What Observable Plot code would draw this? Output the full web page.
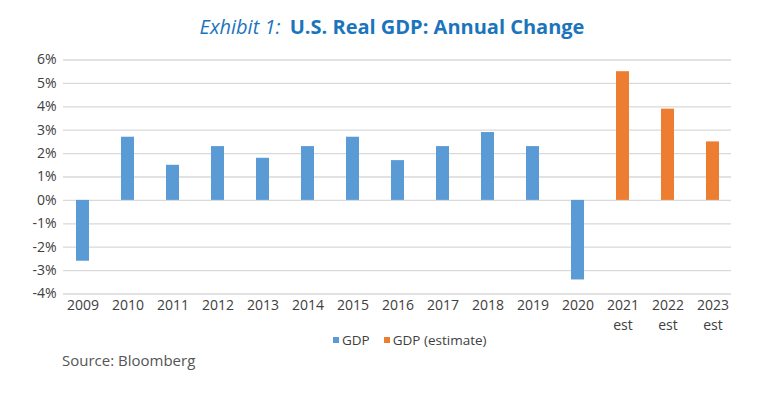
<!DOCTYPE html>
<html>
<head>
<meta charset="utf-8">
<script src="https://cdn.jsdelivr.net/npm/d3@7"></script>
<script src="https://cdn.jsdelivr.net/npm/@observablehq/plot@0.6"></script>
<style>
  html, body { margin: 0; padding: 0; background: #fff; }
  body { width: 770px; height: 394px; position: relative; overflow: hidden; font-family: "Open Sans", sans-serif; }
  #title { position: absolute; top: 13px; left: 0; width: 784px; text-align: center; font-size: 20px; color: #1b75bc; white-space: nowrap; }
  #title i { font-style: italic; font-weight: 400; }
  #title b { font-weight: 700; margin-left: 4px; }
  #chart { position: absolute; top: 48px; left: 0; }
  #legend { position: absolute; top: 331px; left: 333px; font-size: 13.5px; color: #404040; display: flex; align-items: center; white-space: nowrap; }
  #legend .sw { display: inline-block; width: 6px; height: 6px; margin-right: 3px; }
  #legend .item { display: flex; align-items: center; margin-right: 14px; }
  #source { position: absolute; top: 350px; left: 62px; font-size: 15px; color: #555; }
</style>
</head>
<body>
<div id="title"><i>Exhibit 1:</i> <b>U.S. Real GDP: Annual Change</b></div>
<div id="chart"></div>
<div id="legend"></div>
<div id="source">Source: Bloomberg</div>
<script>
const years = ["2009","2010","2011","2012","2013","2014","2015","2016","2017","2018","2019","2020","2021","2022","2023"];
const gdpYears = ["2009","2010","2011","2012","2013","2014","2015","2016","2017","2018","2019","2020"];
const gdp = [-2.6, 2.7, 1.5, 2.3, 1.8, 2.3, 2.7, 1.7, 2.3, 2.9, 2.3, -3.4];
const estYears = ["2021","2022","2023"];
const gdpEstimate = [5.5, 3.9, 2.5];
const estNote = "est";
const yTicks = [-4, -3, -2, -1, 0, 1, 2, 3, 4, 5, 6];
const seriesNames = ["GDP", "GDP (estimate)"];
const colors = ["#5b9bd5", "#ed7d31"];

const rows = [
  ...gdpYears.map((y, i) => ({year: y, value: gdp[i], series: seriesNames[0]})),
  ...estYears.map((y, i) => ({year: y, value: gdpEstimate[i], series: seriesNames[1]}))
];

const chart = Plot.plot({
  width: 770,
  height: 290,
  marginTop: 11.5,
  marginBottom: 44.5,
  marginLeft: 63,
  marginRight: 39,
  style: {fontFamily: "Open Sans, sans-serif", fontSize: "14px", color: "#404040", background: "transparent"},
  x: {domain: years, range: [56, 738], paddingInner: 0.72, paddingOuter: 0.36, label: null},
  y: {domain: [-4, 6], label: null},
  color: {domain: seriesNames, range: colors},
  marks: [
    Plot.ruleY(yTicks, {stroke: "#d9d9d9", strokeWidth: 1.3}),
    Plot.barY(rows, {x: "year", y: "value", fill: "series"}),
    Plot.axisY(yTicks, {tickSize: 0, tickPadding: 7, tickFormat: d => `${d}%`, fontSize: 14, fill: "#404040"}),
    Plot.axisX(years, {tickSize: 0, tickPadding: 6, fontSize: 14, fill: "#404040"}),
    Plot.text(estYears, {x: d => d, text: () => estNote, frameAnchor: "bottom", lineAnchor: "middle", dy: 32, fontSize: 14, fill: "#404040"})
  ]
});
document.getElementById("chart").appendChild(chart);

const legend = document.getElementById("legend");
seriesNames.forEach((n, i) => {
  const item = document.createElement("span");
  item.className = "item";
  const sw = document.createElement("span");
  sw.className = "sw";
  sw.style.background = colors[i];
  item.appendChild(sw);
  item.appendChild(document.createTextNode(n));
  legend.appendChild(item);
});
</script>
</body>
</html>
